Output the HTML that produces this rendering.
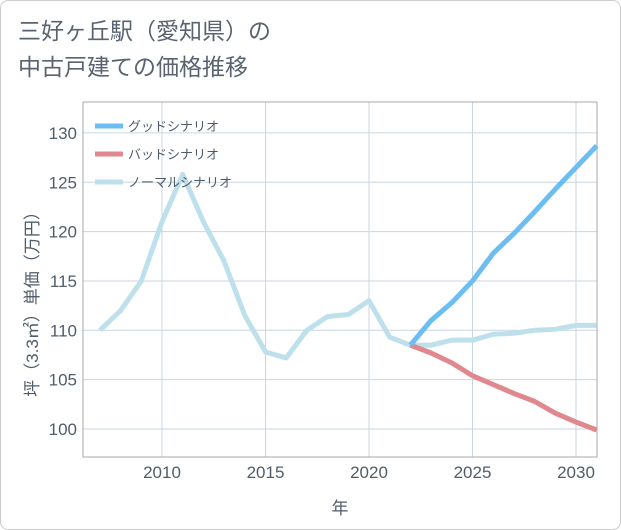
<!DOCTYPE html>
<html><head><meta charset="utf-8"><style>
body{margin:0;background:#fff;font-family:"Liberation Sans","Noto Sans CJK JP",sans-serif}
#card{position:absolute;left:0;top:0;width:619px;height:528px;border:1px solid #ccc;border-radius:8px}
#title{position:absolute;left:18px;top:13px;font-size:23px;line-height:36px;color:#5a6470}
</style></head><body>
<div id="card"></div>
<div id="title">三好ヶ丘駅（愛知県）の<br>中古戸建ての価格推移</div>
<svg id="chart" width="621" height="530" style="position:absolute;left:0;top:0"></svg>
<script>
const years=[2007,2008,2009,2010,2011,2012,2013,2014,2015,2016,2017,2018,2019,2020,2021,2022,2023,2024,2025,2026,2027,2028,2029,2030,2031];
const normal=[110,112,115,121,125.8,121,117,111.5,107.8,107.2,110,111.4,111.6,113,109.3,108.5,108.5,109,109,109.6,109.7,110,110.1,110.5,110.5];
const goodYears=[2022,2023,2024,2025,2026,2027,2028,2029,2030,2031];
const good=[108.5,111,112.8,115,117.8,119.8,122,124.3,126.5,128.7];
const bad=[108.5,107.7,106.7,105.4,104.5,103.6,102.8,101.6,100.7,99.9];
const yTicks=[100,105,110,115,120,125,130];
const xTicks=[2010,2015,2020,2025,2030];
const NS="http://www.w3.org/2000/svg";
const svg=document.getElementById('chart');
const L=83,R=597,T=102,B=457;
const TXT='#4f5d6b';
const x=v=>162+(v-2010)*20.7;
const y=v=>429-(v-100)*9.87;
function mk(t,a,p){const e=document.createElementNS(NS,t);for(const k in a)e.setAttribute(k,a[k]);(p||svg).appendChild(e);return e;}
yTicks.forEach(v=>{
 const g=mk('line',{x1:L,x2:R,y1:y(v),y2:y(v),stroke:'#c8d6e2','stroke-width':1});
 
 
 const t=mk('text',{x:L-6,y:y(v)+6,'text-anchor':'end','font-size':17,fill:TXT});t.textContent=v;
 
 
});
xTicks.forEach(v=>{
 const g=mk('line',{x1:x(v),x2:x(v),y1:T,y2:B,stroke:'#c8d6e2','stroke-width':1});
 
 
 const t=mk('text',{x:x(v),y:B+21,'text-anchor':'middle','font-size':17,fill:TXT});t.textContent=v;
 
 
});
const ax=mk('path',{d:`M${L},${T}V${B}H${R}`,fill:'none',stroke:'#888','stroke-width':1});


const fr=mk('rect',{x:L,y:T,width:R-L,height:B-T,fill:'none',stroke:'#aaa','stroke-width':1});


function line(xs,vs,col,name){
 const p=mk('polyline',{points:xs.map((d,i)=>x(d)+','+y(vs[i])).join(' '),fill:'none',stroke:col,'stroke-width':5,'stroke-linejoin':'round'});
 
 
}
line(years,normal,'#bde0ec','normal-scenario-line');
line(goodYears,bad,'#e0888e','bad-scenario-line');
line(goodYears,good,'#6bbdf2','good-scenario-line');
const leg=[['グッドシナリオ','#6bbdf2'],['バッドシナリオ','#e0888e'],['ノーマルシナリオ','#bde0ec']];
leg.forEach((l,i)=>{
 const yy=126+i*28;
 const s=mk('line',{x1:95,x2:123,y1:yy,y2:yy,stroke:l[1],'stroke-width':5});
 
 
 const t=mk('text',{x:128,y:yy+5,'font-size':13,fill:TXT});t.textContent=l[0];
 
 
});
const xt=mk('text',{x:340,y:514,'text-anchor':'middle','font-size':17,fill:TXT});xt.textContent='年';


const yt=mk('text',{x:0,y:0,'text-anchor':'middle','font-size':17,fill:TXT,transform:'translate(38,300) rotate(-90)'});yt.textContent='坪（3.3㎡）単価（万円）';


</script>
</body></html>
